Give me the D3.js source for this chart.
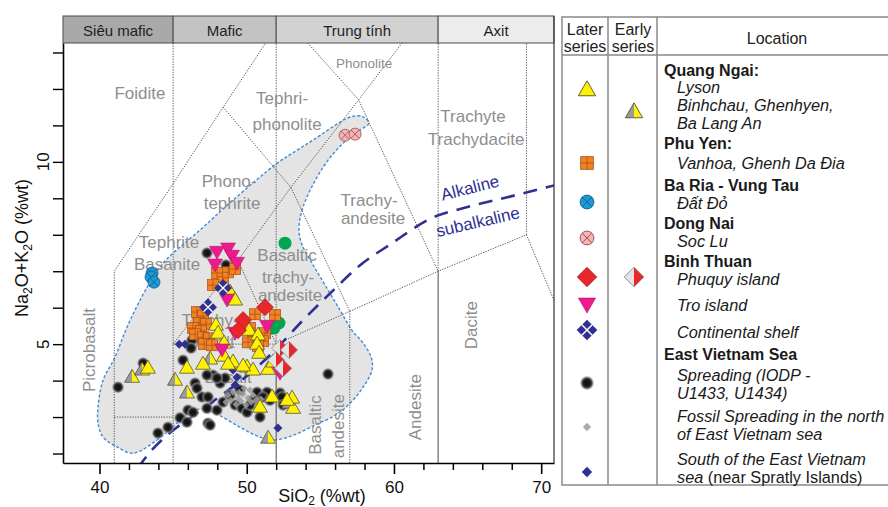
<!DOCTYPE html>
<html>
<head>
<meta charset="utf-8">
<script src="https://cdn.jsdelivr.net/npm/d3@7"></script>
<style>
body { margin: 0; background: #fff; }
text { font-family: "Liberation Sans", Arial, sans-serif; }
</style>
</head>
<body>
<script>
// ---- data (SiO2 %wt, Na2O+K2O %wt) ----
var groupNames = ["Siêu mafic", "Mafic", "Trung tính", "Axit"];
var groupEdges = [37.52, 45, 52, 63, 70.87];

var lysonLater = [[48.87,6.43],[49.21,6.21],[47.91,5.52],[48.05,5.30],[48.46,5.03],[50.16,5.38],[50.77,5.25],
  [50.70,5.00],[50.84,4.75],[48.46,4.67],[49.07,4.51],[47.03,4.45],[48.73,4.45],[50.02,4.37],[50.43,4.29],
  [51.45,4.31],[51.79,4.51],[51.72,3.55],[50.90,3.27],[53.15,3.24],[53.08,3.52],[43.29,4.34],[45.94,4.34],
  [52.74,3.46],[49.75,4.40]];
var lysonEarly = [[42.21,4.09],[42.89,4.29],[45.13,4.01],[45.94,3.66],[47.51,4.59],[51.45,2.42],[52.88,3.38]];
var phuYen = [[47.98,6.95],[48.39,6.70],[47.71,6.62],[48.73,6.97],[49.21,7.06],[46.62,5.88],[47.03,5.77],
  [46.76,5.58],[47.24,5.55],[46.35,5.44],[46.90,5.36],[46.49,5.27],[47.03,5.19],[47.44,5.16],[47.10,5.00],
  [47.64,4.97],[50.56,5.82],[51.92,5.80],[50.22,5.44],[50.43,5.22],[51.24,5.30],[51.11,5.08],[50.09,5.05],[50.77,4.95]];
var baRia = [[43.57,6.95],[43.50,6.84],[43.70,6.70]];
var socLu = [[56.68,10.73],[57.36,10.76]];
var phuquy = [[51.24,6.01],[49.75,5.66],[49.41,5.38]];
var phuquyEarly = [[52.26,4.89],[52.87,4.84],[51.99,4.56],[52.47,4.34]];
var troIsland = [[47.98,7.52],[48.73,7.61],[49.00,7.41],[49.34,7.22],[47.85,7.17],[48.66,6.21],[49.21,5.30],
  [51.38,5.49],[52.26,4.20],[48.32,4.84]];
var contShelf = [[48.39,6.54],[47.37,6.01]];
var greenPts = [[52.60,7.77],[52.19,5.58],[51.85,5.44]];
var spreading = [[41.26,3.82],[42.96,4.48],[47.30,7.50],[48.59,7.17],[46.28,5.11],[46.22,4.89],[45.67,4.56],
  [46.49,3.93],[47.71,4.15],[48.19,3.93],[48.53,4.07],[47.30,4.15],[47.98,4.07],[46.62,3.79],[46.96,3.55],
  [47.37,3.55],[47.30,3.24],[47.98,3.19],[48.39,3.41],[45.47,2.98],[46.01,3.19],[45.94,2.86],[44.65,2.72],
  [43.97,2.56],[47.37,2.83],[46.35,3.13],[48.87,3.60],[49.21,3.33],[49.68,3.24],[50.02,3.13],[49.54,3.74],
  [50.70,3.68],[51.38,3.68],[51.11,3.55],[50.43,3.46],[51.58,3.46],[52.26,3.66],[52.40,3.55],[52.47,3.33],
  [50.90,3.00],[50.22,3.33],[47.51,2.78],[55.52,4.18]];
var fossilNorth = [[48.73,3.60],[49.07,3.68],[49.41,3.52],[49.75,3.63],[50.09,3.52],[50.43,3.60],[49.27,3.35],
  [49.61,3.44],[49.95,3.33],[50.29,3.41],[50.63,3.46],[48.93,3.46],[49.82,3.79],[50.22,3.74],[49.48,3.68],
  [50.70,3.30],[50.97,3.49],[48.59,3.41]];
var spratly = [[45.41,5.00],[45.81,5.00],[49.34,4.09],[49.21,3.88],[52.12,2.70],[53.01,3.52],[49.07,4.29]];

// field envelope of all samples
var envelope = [[42.28,2.01],[43.91,2.37],[45.27,2.83],[46.28,3.16],[46.96,3.22],[47.85,3.11],[49.54,2.72],
  [50.90,2.45],[51.92,2.37],[53.15,2.50],[54.64,2.78],[56.00,3.05],[57.02,3.38],[57.90,3.82],[58.51,4.29],
  [58.45,4.64],[57.90,5.03],[57.15,5.38],[56.34,5.93],[55.32,6.62],[54.44,7.22],[53.76,7.72],[53.55,8.13],
  [53.82,8.76],[55.18,9.85],[56.54,10.51],[57.69,10.87],[58.30,11.06],[57.83,11.25],[57.02,11.23],[56.34,11.09],
  [54.51,10.60],[53.42,10.32],[52.06,9.96],[49.07,8.95],[46.83,8.13],[44.31,7.22],[43.23,6.56],[41.87,5.47],
  [41.05,4.64],[40.24,4.01],[39.90,3.27],[39.90,2.83],[40.24,2.45],[41.19,2.18]];

// alkaline / subalkaline divide
var alkDivide = [[42.6,1.6],[43.0,1.82],[47.66,3.41],[49.90,4.09],[51.94,4.84],[53.64,5.58],[55.68,6.40],
  [57.72,7.17],[59.76,7.74],[62.68,8.48],[64.99,8.76],[67.70,9.03],[70.96,9.36]];

// TAS field boundaries
var tasDotted = [
  [[41,1.74],[41,7],[45,9.4],[48.4,11.5],[52.5,14]],
  [[41,3],[45,3]],
  [[45,1.74],[45,13.26]],
  [[52,5],[52,13.26]],
  [[63,7],[63,13.26]],
  [[69,8],[69,13.26]],
  [[45,5],[52,5]],
  [[45,5],[49.4,7.3],[53,9.3],[57.6,11.7],[61,13.5]],
  [[52,5],[57,5.9],[63,7],[69,8],[77.3,0]],
  [[57,1.74],[57,5.9]],
  [[49.4,7.3],[52,5]],
  [[53,9.3],[57,5.9]],
  [[48.4,11.5],[53,9.3]],
  [[52.5,14],[57.6,11.7],[63,7]]
];
var tasSolid = [[[52,1.74],[52,5]], [[63,1.74],[63,7]]];

var fieldLabels = [
  ["Foidite", 42.75, 11.88, 0], ["Tephri-", 52.40, 11.75, 0], ["phonolite", 52.74, 11.03, 0],
  ["Trachyte", 65.37, 11.25, 0], ["Trachydacite", 65.58, 10.60, 0],
  ["Phono-", 48.80, 9.47, 0], ["tephrite", 49.00, 8.87, 0],
  ["Tephrite", 44.72, 7.80, 0], ["Basanite", 44.59, 7.19, 0],
  ["Trachy-", 58.31, 8.95, 0], ["andesite", 58.58, 8.46, 0],
  ["Basaltic", 52.74, 7.44, 0], ["trachy-", 52.81, 6.84, 0], ["andesite", 52.94, 6.34, 0],
  ["Trachy-", 47.51, 5.66, 0], ["basalt", 47.64, 5.05, 0], ["Basalt", 48.73, 4.09, 0],
  ["Picrobasalt", 39.35, 4.84, -90], ["Basaltic", 54.64, 2.78, -90], ["andesite", 56.20, 2.75, -90],
  ["Andesite", 61.43, 3.27, -90], ["Dacite", 65.30, 5.52, -90]
];

var locations = [
  ["Quang Ngai:", "h"], ["Lyson", "i"], ["Binhchau, Ghenhyen,", "i"], ["Ba Lang An", "i"],
  ["Phu Yen:", "h"], ["Vanhoa, Ghenh Da Đia", "i"],
  ["Ba Ria - Vung Tau", "h"], ["Đất Đỏ", "i"],
  ["Dong Nai", "h"], ["Soc Lu", "i"],
  ["Binh Thuan", "h"], ["Phuquy island", "i"], ["Tro island", "i"], ["Continental shelf", "i"],
  ["East Vietnam Sea", "h"], ["Spreading (IODP -", "i"], ["U1433, U1434)", "i"],
  ["Fossil Spreading in the north", "i"], ["of East Vietnam sea", "i"],
  ["South of the East Vietnam", "i"], ["sea", "s"]
];
var laterKeys = ["tri", "sq", "bluex", "pinkx", "dia", "downtri", "navyx", "black", "fossil", "navySmall"];
var earlyKeys = ["halftri", "halfdia"];

const width = 888, height = 507;

const svg = d3.select("body").append("svg")
  .attr("width", width)
  .attr("height", height);

const x = d3.scaleLinear().domain([37.52, 70.87]).range([63, 554]);
const y = d3.scaleLinear().domain([1.74, 13.26]).range([463, 43]);

const defs = svg.append("defs");
defs.append("clipPath").attr("id", "plotclip")
  .append("rect").attr("x", 63).attr("y", 43).attr("width", 491).attr("height", 420);
var grad = defs.append("radialGradient").attr("id", "dotgrad");
grad.append("stop").attr("offset", "0%").attr("stop-color", "#0e0e0e");
grad.append("stop").attr("offset", "50%").attr("stop-color", "#1c1c1c");
grad.append("stop").attr("offset", "72%").attr("stop-color", "#5a5a5a");
grad.append("stop").attr("offset", "100%").attr("stop-color", "#b0b0b0").attr("stop-opacity", 0.25);

// ---- symbols ----
function drawSymbol(g, type) {
  switch (type) {
    case "tri":
      g.append("path").attr("d", "M0,-8L7.5,5L-7.5,5Z")
        .attr("fill", "#fff200").attr("stroke", "#56523a").attr("stroke-width", 0.8);
      break;
    case "halftri":
      g.append("path").attr("d", "M0,-8L0,5L-7.5,5Z").attr("fill", "#9b9b9b");
      g.append("path").attr("d", "M0,-8L7.5,5L0,5Z").attr("fill", "#fff200");
      g.append("path").attr("d", "M0,-8L7.5,5L-7.5,5Z")
        .attr("fill", "none").attr("stroke", "#56523a").attr("stroke-width", 0.8);
      break;
    case "sq":
      g.append("rect").attr("x", -5.5).attr("y", -5.5).attr("width", 11).attr("height", 11)
        .attr("fill", "#f58220").attr("stroke", "#a0501a").attr("stroke-width", 0.7);
      g.append("path").attr("d", "M0,-5.5V5.5M-5.5,0H5.5")
        .attr("stroke", "#a0501a").attr("stroke-width", 0.7);
      break;
    case "downtri":
      g.append("path").attr("d", "M-7.5,-6L7.5,-6L0,7Z")
        .attr("fill", "#ec1c8c").attr("stroke", "#b0106a").attr("stroke-width", 0.5);
      break;
    case "dia":
      g.append("path").attr("d", "M0,-8.5L8.5,0L0,8.5L-8.5,0Z")
        .attr("fill", "#e8262b").attr("stroke", "#a01818").attr("stroke-width", 0.6);
      break;
    case "halfdia":
      g.append("path").attr("d", "M0,-8.5L0,8.5L-8.5,0Z").attr("fill", "#e3e3e3");
      g.append("path").attr("d", "M0,-8.5L8.5,0L0,8.5Z").attr("fill", "#e8262b");
      g.append("path").attr("d", "M0,-8.5L8.5,0L0,8.5L-8.5,0Z")
        .attr("fill", "none").attr("stroke", "#7a7a7a").attr("stroke-width", 0.7);
      break;
    case "navyx":
      g.append("path").attr("d", "M0,-9L9,0L0,9L-9,0Z").attr("fill", "#2e3192");
      g.append("path").attr("d", "M-4.5,-4.5L4.5,4.5M4.5,-4.5L-4.5,4.5")
        .attr("stroke", "#fff").attr("stroke-width", 1.3);
      break;
    case "bluex":
    case "pinkx":
      var f = type === "bluex" ? "#1b9ad6" : "#f2b4b4";
      var s = type === "bluex" ? "#1a5a8a" : "#9a4a4a";
      g.append("circle").attr("r", 6).attr("fill", f).attr("stroke", s).attr("stroke-width", 0.8);
      g.append("path").attr("d", "M-4.2,-4.2L4.2,4.2M4.2,-4.2L-4.2,4.2")
        .attr("stroke", s).attr("stroke-width", 0.8);
      break;
    case "green":
      g.append("circle").attr("r", 6.5).attr("fill", "#00a651");
      break;
    case "black":
      g.append("circle").attr("r", 6.2).attr("fill", "url(#dotgrad)");
      break;
    case "fossil":
      g.append("path").attr("d", "M0,-3.6L3.6,0L0,3.6L-3.6,0Z")
        .attr("fill", "#9c9c9c").attr("opacity", 0.85);
      break;
    case "navySmall":
      g.append("path").attr("d", "M0,-4.5L4.5,0L0,4.5L-4.5,0Z").attr("fill", "#2e3192");
      break;
  }
}

// ---- header band ----
const header = svg.append("g");
const headerFill = ["#a9a9a9", "#c3c3c3", "#d2d2d2", "#ececec"];
groupNames.forEach(function(name, i) {
  header.append("rect")
    .attr("x", x(groupEdges[i])).attr("y", 16)
    .attr("width", x(groupEdges[i + 1]) - x(groupEdges[i])).attr("height", 27)
    .attr("fill", headerFill[i]).attr("stroke", "#4d4d4d").attr("stroke-width", 1);
  header.append("text")
    .attr("x", (x(groupEdges[i]) + x(groupEdges[i + 1])) / 2).attr("y", 30)
    .attr("text-anchor", "middle").attr("dominant-baseline", "central")
    .attr("font-size", 15).attr("fill", "#1e1e1e").text(name);
});

// ---- plot body ----
const plot = svg.append("g").attr("clip-path", "url(#plotclip)");

const lineGen = d3.line().x(function(d) { return x(d[0]); }).y(function(d) { return y(d[1]); });

plot.append("path")
  .attr("d", d3.line().x(function(d) { return x(d[0]); }).y(function(d) { return y(d[1]); })
    .curve(d3.curveCatmullRomClosed.alpha(0.5))(envelope))
  .attr("fill", "#e4e4e4").attr("stroke", "#3f8bd6").attr("stroke-width", 1.4)
  .attr("stroke-dasharray", "3,2");

plot.selectAll(".tasd").data(tasDotted).enter().append("path")
  .attr("d", lineGen).attr("fill", "none")
  .attr("stroke", "#4a4a4a").attr("stroke-width", 0.9).attr("stroke-dasharray", "1.3,1.3");
plot.selectAll(".tass").data(tasSolid).enter().append("path")
  .attr("d", lineGen).attr("fill", "none")
  .attr("stroke", "#4a4a4a").attr("stroke-width", 1);

plot.selectAll(".flab").data(fieldLabels).enter().append("text")
  .attr("transform", function(d) { return "translate(" + x(d[1]) + "," + y(d[2]) + ") rotate(" + d[3] + ")"; })
  .attr("text-anchor", "middle").attr("dominant-baseline", "central")
  .attr("font-size", 17).attr("fill", "#8e8e8e").text(function(d) { return d[0]; });

plot.append("text")
  .attr("x", x(57.97)).attr("y", y(12.71))
  .attr("text-anchor", "middle").attr("dominant-baseline", "central")
  .attr("font-size", 13.5).attr("fill", "#8e8e8e").text("Phonolite");

plot.append("path")
  .attr("d", d3.line().x(function(d) { return x(d[0]); }).y(function(d) { return y(d[1]); })
    .curve(d3.curveMonotoneX)(alkDivide))
  .attr("fill", "none").attr("stroke", "#2e3192").attr("stroke-width", 2.6)
  .attr("stroke-dasharray", "14,9");

plot.append("text")
  .attr("transform", "translate(" + x(65.17) + "," + y(9.28) + ") rotate(-14)")
  .attr("text-anchor", "middle").attr("dominant-baseline", "central")
  .attr("font-size", 17).attr("fill", "#2e3192").text("Alkaline");
plot.append("text")
  .attr("transform", "translate(" + x(65.71) + "," + y(8.35) + ") rotate(-13)")
  .attr("text-anchor", "middle").attr("dominant-baseline", "central")
  .attr("font-size", 17).attr("fill", "#2e3192").text("subalkaline");

// ---- samples ----
var layers = [
  ["black", spreading], ["fossil", fossilNorth], ["navySmall", spratly], ["green", greenPts],
  ["bluex", baRia], ["pinkx", socLu], ["sq", phuYen], ["halftri", lysonEarly], ["tri", lysonLater],
  ["downtri", troIsland], ["dia", phuquy], ["halfdia", phuquyEarly], ["navyx", contShelf]
];
layers.forEach(function(layer) {
  plot.append("g").selectAll("g").data(layer[1]).enter().append("g")
    .attr("transform", function(d) { return "translate(" + x(d[0]) + "," + y(d[1]) + ")"; })
    .each(function() { drawSymbol(d3.select(this), layer[0]); });
});

// ---- axes ----
svg.append("g").attr("transform", "translate(0,463)")
  .call(d3.axisBottom(x).tickValues([40, 50, 60, 70]).tickSize(11).tickSizeOuter(0).tickPadding(7)
    .tickFormat(d3.format("d")))
  .call(function(g) {
    g.select(".domain").attr("stroke-width", 1.6);
    g.selectAll(".tick line").attr("stroke-width", 1.6);
    g.selectAll("text").attr("font-size", 17).attr("fill", "#111")
      .attr("font-family", "Liberation Sans, Arial, sans-serif");
  });
svg.append("g").attr("transform", "translate(0,463)")
  .call(d3.axisBottom(x).tickValues([42, 44, 46, 48, 52, 54, 56, 58, 62, 64, 66, 68]).tickSize(7)
    .tickSizeOuter(0).tickFormat(""))
  .call(function(g) {
    g.select(".domain").remove();
    g.selectAll(".tick line").attr("stroke-width", 1.5);
  });
svg.append("g").attr("transform", "translate(63,0)")
  .call(d3.axisLeft(y).tickValues(d3.range(2, 14)).tickSize(10).tickSizeOuter(0).tickFormat(""))
  .call(function(g) {
    g.select(".domain").attr("stroke-width", 1.6);
    g.selectAll(".tick line").attr("stroke-width", 1.4);
  });
svg.selectAll(".ylab").data([5, 10]).enter().append("text")
  .attr("transform", function(d) { return "translate(43," + y(d) + ") rotate(-90)"; })
  .attr("text-anchor", "middle").attr("dominant-baseline", "central")
  .attr("font-size", 17).attr("fill", "#111").text(function(d) { return d; });

svg.append("line").attr("x1", 554).attr("x2", 554).attr("y1", 16).attr("y2", 463)
  .attr("stroke", "#333").attr("stroke-width", 1.2);

// axis titles
var xt = svg.append("text").attr("x", 322).attr("y", 502).attr("text-anchor", "middle")
  .attr("font-size", 18).attr("fill", "#111");
xt.append("tspan").text("SiO");
xt.append("tspan").attr("font-size", 12).attr("dy", 3).text("2");
xt.append("tspan").attr("dy", -3).text(" (%wt)");

var yt = svg.append("text").attr("transform", "translate(28,248) rotate(-90)")
  .attr("text-anchor", "middle").attr("font-size", 18).attr("fill", "#111");
yt.append("tspan").text("Na");
yt.append("tspan").attr("font-size", 12).attr("dy", 4).text("2");
yt.append("tspan").attr("dy", -4).text("O+K");
yt.append("tspan").attr("font-size", 12).attr("dy", 4).text("2");
yt.append("tspan").attr("dy", -4).text("O (%wt)");

// ---- legend table ----
const leg = svg.append("g");
const tableStroke = "#8a8a8a";
leg.append("rect").attr("x", 562).attr("y", 17).attr("width", 340).attr("height", 468)
  .attr("fill", "none").attr("stroke", tableStroke).attr("stroke-width", 1.5);
[608, 657].forEach(function(v) {
  leg.append("line").attr("x1", v).attr("x2", v).attr("y1", 17).attr("y2", 485)
    .attr("stroke", tableStroke).attr("stroke-width", 1.5);
});
leg.append("line").attr("x1", 562).attr("x2", 900).attr("y1", 55).attr("y2", 55)
  .attr("stroke", tableStroke).attr("stroke-width", 1.5);

[["Later", 585, 29], ["series", 585, 46], ["Early", 633, 29], ["series", 633, 46], ["Location", 777, 38]]
  .forEach(function(t) {
    leg.append("text").attr("x", t[1]).attr("y", t[2]).attr("text-anchor", "middle")
      .attr("dominant-baseline", "central").attr("font-size", 16).attr("fill", "#222").text(t[0]);
  });

var locY = [70, 87, 105, 123, 143, 163, 185, 203, 223, 241, 261, 279, 305, 332, 354, 375, 393, 416, 434, 459, 477];
locations.forEach(function(d, i) {
  var t = leg.append("text").attr("x", d[1] === "h" ? 664 : 677).attr("y", locY[i])
    .attr("dominant-baseline", "central").attr("fill", "#1a1a1a");
  if (d[1] === "h") t.attr("font-weight", "bold").attr("font-size", 16).text(d[0]);
  else if (d[1] === "i") t.attr("font-style", "italic").attr("font-size", 16.3).text(d[0]);
  else {
    t.attr("font-size", 16.3);
    t.append("tspan").attr("font-style", "italic").text(d[0]);
    t.append("tspan").text(" (near Spratly Islands)");
  }
});

var laterY = [90, 163, 202, 238, 277, 305, 330, 383, 427, 472];
laterKeys.forEach(function(k, i) {
  var g = leg.append("g").attr("transform", "translate(587," + laterY[i] + ") scale(1.15)");
  drawSymbol(g, k);
});
var earlyY = [112, 277];
earlyKeys.forEach(function(k, i) {
  var g = leg.append("g").attr("transform", "translate(634," + earlyY[i] + ") scale(1.15)");
  drawSymbol(g, k);
});
</script>
</body>
</html>
